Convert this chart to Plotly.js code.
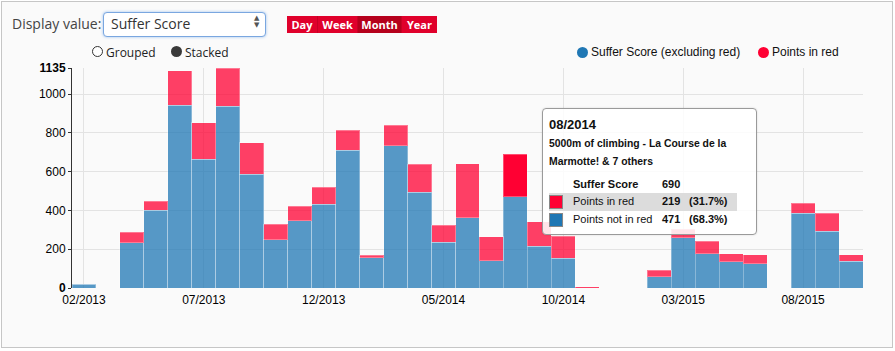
<!DOCTYPE html>
<html>
<head>
<meta charset="utf-8">
<script src="https://cdn.plot.ly/plotly-3.0.1.min.js"></script>
<style>
  html, body { margin: 0; padding: 0; background: #fff; }
  #frame { position: absolute; left: 1px; top: 1px; width: 890px; height: 345px;
           border: 1px solid #c6c6c6; background: #fafafa; }
  #chart { position: absolute; left: 0; top: 0; width: 895px; height: 351px; }
  .ctl { position: absolute; font-family: "Open Sans", "Noto Sans", sans-serif; color: #333; white-space: nowrap; }
  .lab { font-family: "Liberation Sans", Arial, sans-serif; font-size: 12px; color: #111; position: absolute; white-space: nowrap; }
  .btn { position: absolute; top: 16px; height: 17px; line-height: 17px; color: #fff; font-weight: bold;
         font-family: "Open Sans", sans-serif; font-size: 11px; text-align: center; background: #e0002b;
         border-right: 1px solid #c70024; box-sizing: border-box; }
  #tip { position: absolute; left: 542px; top: 108px; width: 213px; height: 125px;
         border: 1px solid #9a9a9a; border-radius: 4px; background: rgba(255,255,255,0.86);
         font-family: "Liberation Sans", Arial, sans-serif; color: #111; box-shadow: 0 0 2px rgba(0,0,0,0.15); }
  #tip div { position: absolute; white-space: nowrap; }
</style>
</head>
<body>
<div id="frame"></div>
<div id="chart"></div>

<div class="ctl" style="left:12px; top:14px; font-size:14px; color:#444;">Display value:</div>
<div style="position:absolute; left:103px; top:12px; width:161px; height:23px; border:1px solid #7aa7e0;
            border-radius:4px; background:#fff; box-shadow:0 0 3px #9cc0ee;"></div>
<div class="ctl" style="left:111px; top:14px; font-size:14px; color:#333;">Suffer Score</div>
<div style="position:absolute; left:254px; top:15px; font-size:7px; line-height:7px; color:#555; font-family:'DejaVu Sans';">▲<br>▼</div>

<div class="btn" style="left:287px; width:31px;">Day</div>
<div class="btn" style="left:318px; width:40px;">Week</div>
<div class="btn" style="left:358px; width:44px; background:#b5001c;">Month</div>
<div class="btn" style="left:402px; width:35px; border-right:none;">Year</div>

<div style="position:absolute; left:92px; top:46px; width:9px; height:9px; border:1.5px solid #333; border-radius:50%; background:#fff;"></div>
<div class="ctl" style="left:106px; top:44px; font-size:12px; color:#222;">Grouped</div>
<div style="position:absolute; left:171px; top:46px; width:11px; height:11px; border-radius:50%; background:#3a3a3a;"></div>
<div class="ctl" style="left:185px; top:44px; font-size:12px; color:#222;">Stacked</div>

<div style="position:absolute; left:577px; top:47px; width:11px; height:11px; border-radius:50%; background:#1f77b4;"></div>
<div class="lab" style="left:591px; top:45px;">Suffer Score (excluding red)</div>
<div style="position:absolute; left:758px; top:47px; width:11px; height:11px; border-radius:50%; background:#ff0033;"></div>
<div class="lab" style="left:772px; top:45px;">Points in red</div>

<div id="tip"></div>

<script>
var months = ["02/2013","03/2013","04/2013","05/2013","06/2013","07/2013","08/2013","09/2013","10/2013","11/2013","12/2013",
              "01/2014","02/2014","03/2014","04/2014","05/2014","06/2014","07/2014","08/2014","09/2014","10/2014","11/2014","12/2014",
              "01/2015","02/2015","03/2015","04/2015","05/2015","06/2015","07/2015","08/2015","09/2015","10/2015"];
var notRed = [19,0,233,400,944,664,937,587,250,347,431,
              711,157,735,493,235,362,141,471,216,154,0,0,
              0,59,260,176,136,126,0,385,293,138];
var inRed  = [0,0,55,48,177,188,198,163,78,74,90,
              103,11,105,145,88,278,123,219,126,114,7,0,
              0,32,44,64,42,46,0,51,92,34];
var tickMonths = ["02/2013","07/2013","12/2013","05/2014","10/2014","03/2015","08/2015"];
var yTicks = [0,200,400,600,800,1000,1135];
var yTickText = ["<b>0</b>","200","400","600","800","1000","<b>1135</b>"];
var hoverMonth = "08/2014";
var hoverTitle = "5000m of climbing - La Course de la";
var hoverTitle2 = "Marmotte! & 7 others";

var hi = months.indexOf(hoverMonth);
var redColors = months.map(function(m, i){ return i === hi ? "rgb(255,0,51)" : "rgba(255,0,51,0.75)"; });

var traces = [
  { type: "bar", x: months, y: notRed, name: "Suffer Score (excluding red)",
    marker: { color: "rgba(31,119,180,0.75)", line: { color: "rgba(255,255,255,0.3)", width: 1 } } },
  { type: "bar", x: months, y: inRed, name: "Points in red",
    marker: { color: redColors, line: { color: "rgba(255,255,255,0.3)", width: 1 } } }
];

var layout = {
  width: 895, height: 351,
  margin: { l: 72, r: 32, t: 68, b: 63 },
  paper_bgcolor: "rgba(0,0,0,0)", plot_bgcolor: "#fafafa",
  barmode: "stack", bargap: 0, showlegend: false,
  font: { family: "Liberation Sans, Arial, sans-serif", size: 12, color: "#000" },
  xaxis: { type: "category", range: [-0.5, months.length - 0.5], tickmode: "array", tickvals: tickMonths,
           ticktext: tickMonths, showgrid: true, gridcolor: "#e3e3e3", ticks: "", zeroline: false,
           showline: false, tickfont: { size: 12 }, ticklabelstandoff: 3 },
  yaxis: { range: [0, 1135], tickmode: "array", tickvals: yTicks, ticktext: yTickText,
           showgrid: true, gridcolor: "#e3e3e3", zeroline: false, showline: true, linecolor: "#333",
           linewidth: 1, ticks: "outside", ticklen: 3, tickcolor: "#333", tickfont: { size: 12 } }
};

Plotly.newPlot("chart", traces, layout, { displayModeBar: false, staticPlot: true });

// tooltip built from the data
var tot = notRed[hi] + inRed[hi];
var pr = (100 * inRed[hi] / tot).toFixed(1);
var pn = (100 * notRed[hi] / tot).toFixed(1);
var tip = document.getElementById("tip");
tip.innerHTML =
  '<div style="left:6px; top:8px; font-size:13px; font-weight:bold;">' + hoverMonth + '</div>' +
  '<div style="left:6px; top:29px; font-size:10.4px; font-weight:bold;">' + hoverTitle + '</div>' +
  '<div style="left:6px; top:47px; font-size:10.4px; font-weight:bold;">' + hoverTitle2.replace("&","&amp;") + '</div>' +
  '<div style="left:30px; top:69px; font-size:11px; font-weight:bold;">Suffer Score</div>' +
  '<div style="left:119px; top:69px; font-size:11px; font-weight:bold;">' + tot + '</div>' +
  '<div style="left:6px; top:84px; width:188px; height:18px; background:#dcdcdc;"></div>' +
  '<div style="left:6px; top:86px; width:12px; height:12px; background:#ff0033; border:1px solid #888;"></div>' +
  '<div style="left:30px; top:86px; font-size:11px;">Points in red</div>' +
  '<div style="left:119px; top:86px; font-size:11px; font-weight:bold;">' + inRed[hi] + '</div>' +
  '<div style="left:146px; top:86px; font-size:11px; font-weight:bold;">(' + pr + '%)</div>' +
  '<div style="left:6px; top:104px; width:12px; height:12px; background:#1f77b4; border:1px solid #888;"></div>' +
  '<div style="left:30px; top:104px; font-size:11px;">Points not in red</div>' +
  '<div style="left:119px; top:104px; font-size:11px; font-weight:bold;">' + notRed[hi] + '</div>' +
  '<div style="left:146px; top:104px; font-size:11px; font-weight:bold;">(' + pn + '%)</div>';
</script>
</body>
</html>
